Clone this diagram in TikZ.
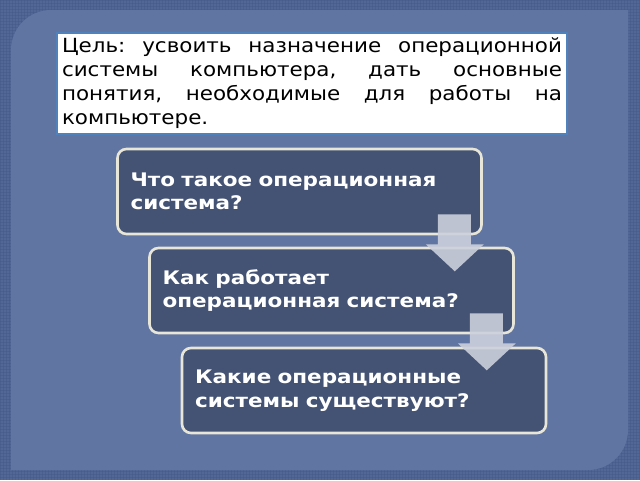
\documentclass[tikz,border=0pt]{standalone}
\usepackage{fontspec}
\setmainfont{DejaVu Sans}
\newfontfamily\goalfont[FakeStretch=1.1]{DejaVu Sans}
\newfontfamily\boxfont[FakeStretch=1.15]{DejaVu Sans}
\usetikzlibrary{calc}
\definecolor{outerbg}{RGB}{82,103,150}
\definecolor{gridc}{RGB}{70,90,138}
\definecolor{panelbg}{RGB}{96,117,161}
\definecolor{boxfill}{RGB}{68,83,116}
\definecolor{boxline}{RGB}{232,230,216}
\definecolor{arrowc}{RGB}{204,208,220}
\definecolor{goalline}{RGB}{79,129,189}
\tikzset{
  qbox/.style={draw=boxline, line width=2.6pt, fill=boxfill, rounded corners=9pt,
    minimum width=364pt, minimum height=85pt, text width=338pt, align=left,
    text=white, font=\boxfont\bfseries\fontsize{18.7}{23.5}\selectfont, inner sep=0pt},
  downarrow/.style={fill=arrowc, fill opacity=0.9, draw=none},
  goal/.style={draw=goalline, line width=1.4pt, fill=white, minimum width=510pt,
    minimum height=101pt, text width=500pt, inner sep=0pt, align=justify,
    font=\goalfont\fontsize{19.5}{24}\selectfont}
}
\begin{document}
\begin{tikzpicture}[x=1pt,y=-1pt]
\useasboundingbox (0,0) rectangle (640,480);
% background
\fill[outerbg] (0,0) rectangle (640,480);
\foreach \i in {0,3,...,639} {\draw[gridc, line width=0.5pt, opacity=0.5] (\i,0) -- (\i,480);}
\foreach \j in {0,3,...,479} {\draw[gridc, line width=0.5pt, opacity=0.5] (0,\j) -- (640,\j);}
\fill[panelbg] (11,470) -- (11,50) .. controls (11,28) and (29,10) .. (51,10) -- (628,10)
  -- (628,430) .. controls (628,452) and (610,470) .. (588,470) -- cycle;
% goal text
\node[goal] (goal) at (312,83.5) {\frenchspacing\hyphenpenalty=10000 Цель: усвоить назначение операционной\linebreak
системы компьютера, дать основные\linebreak
понятия, необходимые для работы на\linebreak
компьютере.};
% boxes
\node[qbox] (b1) at (299.5,191.5) {Что такое операционная\\система?};
\node[qbox] (b2) at (331.5,290.5) {Как работает\\операционная система?};
\node[qbox] (b3) at (364,390.5) {Какие операционные\\системы существуют?};
% arrows
\foreach \a in {b1,b2} {
  \fill[downarrow] ($(\a.south east)+(-45,-21)$) -- ($(\a.south east)+(-12,-21)$)
    -- ($(\a.south east)+(-12,9)$) -- ($(\a.south east)+(1,9)$)
    -- ($(\a.south east)+(-28,36)$) -- ($(\a.south east)+(-57,9)$)
    -- ($(\a.south east)+(-45,9)$) -- cycle;
}
\end{tikzpicture}
\end{document}
